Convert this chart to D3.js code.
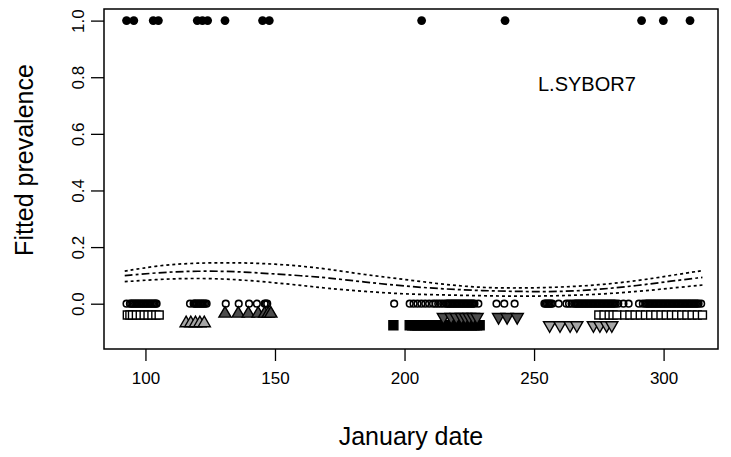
<!DOCTYPE html>
<html>
<head>
<meta charset="utf-8">
<script src="https://cdn.jsdelivr.net/npm/d3@7"></script>
<style>
  body { margin: 0; background: #fff; }
  svg { display: block; font-family: "Liberation Sans", Arial, sans-serif; }
</style>
</head>
<body>
<svg id="chart" width="731" height="457"></svg>
<script>
// fitted curve with its band (January date -> prevalence)
const fitDate  = [92, 105, 117, 130, 140, 150, 160, 170, 185, 200, 215, 230, 245, 260, 275, 290, 303, 315];
const fitMid   = [0.099, 0.110, 0.115, 0.115, 0.111, 0.105, 0.099, 0.092, 0.076, 0.062, 0.052, 0.046, 0.043, 0.042, 0.050, 0.064, 0.080, 0.093];
const fitUpper = [0.115, 0.135, 0.143, 0.145, 0.144, 0.140, 0.133, 0.123, 0.102, 0.086, 0.068, 0.056, 0.055, 0.058, 0.066, 0.081, 0.100, 0.117];
const fitLower = [0.078, 0.086, 0.090, 0.088, 0.082, 0.074, 0.065, 0.054, 0.043, 0.034, 0.031, 0.028, 0.026, 0.028, 0.033, 0.043, 0.055, 0.066];

// observed infected (1) and not infected (0)
const posDates = [92.7, 95.5, 103, 105, 120, 122, 124, 130.7, 145.2, 147.8, 206.6, 238.8, 291.5, 299.9, 310.2];
const negDates = [
  92.7, 94, 94.5, 95, 95.5, 96, 96.5, 97, 97.5, 98, 98.5, 99, 99.5, 100, 100.5, 101, 101.5, 102, 102.5, 103, 103.5, 104, 104.3,
  117.2, 118.6, 119, 119.5, 120, 120.5, 121, 121.5, 122, 122.5, 123, 123.6,
  131, 136, 140, 143, 146, 146.5, 147,
  196, 202, 203.5, 205, 206.5, 208, 209.5, 211, 212, 213, 214, 215, 216, 216.5, 217, 217.5, 218, 218.5, 219, 219.5,
  220, 220.5, 221, 221.5, 222, 222.5, 223, 223.5, 224, 224.5, 225, 225.5, 226, 226.5, 227, 228.5,
  235.5, 238.5, 242.5,
  254, 254.5, 255, 255.5, 256, 256.5, 257, 259.5,
  262.5, 263.5, 264.5, 265.5, 266, 266.5, 267, 267.5, 268, 268.5, 269, 269.5, 270, 270.5, 271, 271.5, 272, 272.5, 273,
  273.5, 274, 274.5, 275, 275.5, 276, 276.5, 277, 277.5, 278, 278.5, 279, 279.5, 280, 280.5, 281, 281.5, 282.5,
  284.5, 286.5,
  290.5, 292, 293, 293.5, 294, 294.5, 295, 295.5, 296, 296.5, 297, 297.5, 298, 298.5, 299, 299.5, 300, 300.5, 301, 301.5,
  302, 302.5, 303, 303.5, 304, 304.5, 305, 305.5, 306, 306.5, 307, 307.5, 308, 308.5, 309, 309.5, 310, 310.5, 311, 311.5,
  312, 312.5, 313, 313.5, 314.5];

// sampling groups shown below zero
const openSqDates = [93, 94, 95, 96.5, 98, 99.5, 101, 102.5, 104, 105.3,
  275, 277, 279, 280.5, 282, 285, 287, 289, 291, 293, 295, 297, 299, 301, 303, 305, 307, 309, 311, 313, 315];
const lightUpDates = [115.7, 117.5, 119.3, 121, 122.7];
const darkUpDates = [130.7, 135.8, 139.7, 143.5, 146, 147.4, 148.4];
const blackSqDates = [195.7, 202, 203, 204, 205, 206, 207, 208, 209, 210, 211, 212, 213, 214, 215, 216, 217, 218, 219, 220, 221, 222, 223, 224, 225, 226, 227, 228, 229];
const darkDownDates = [215, 218, 220, 222, 223.5, 225, 226.5, 228, 236.3, 239.6, 243.5];
const lightDownDates = [256, 260, 263.9, 266.5, 272.9, 275.4, 278, 280];

const groupLevels = [-0.040, -0.069, -0.035, -0.076, -0.047, -0.076];

const xTicks = [100, 150, 200, 250, 300];
const yTicks = [0, 0.2, 0.4, 0.6, 0.8, 1.0];

const svg = d3.select("#chart");
const plotL = 104, plotR = 718, plotT = 9, plotB = 349;

const x = d3.scaleLinear().domain([84, 321]).range([plotL, plotR]);
const y = d3.scaleLinear().domain([-0.16, 1.041]).range([plotB, plotT]);

// axes
const xAxis = svg.append("g")
  .attr("transform", "translate(0," + plotB + ")")
  .call(d3.axisBottom(x).tickValues(xTicks).tickSize(12).tickFormat(d3.format("d")));
xAxis.select(".domain").remove();
xAxis.selectAll("line").attr("stroke", "#000").attr("stroke-width", 1.3);
xAxis.selectAll("text")
  .attr("y", 29).attr("dy", "0.35em")
  .attr("font-size", 17).attr("font-family", "Liberation Sans, Arial, sans-serif")
  .attr("fill", "#000");

const yAxis = svg.append("g")
  .attr("transform", "translate(" + plotL + ",0)")
  .call(d3.axisLeft(y).tickValues(yTicks).tickSize(13).tickFormat(d3.format(".1f")));
yAxis.select(".domain").remove();
yAxis.selectAll("line").attr("stroke", "#000").attr("stroke-width", 1.3);
yAxis.selectAll("text")
  .attr("x", 0).attr("y", -20).attr("dy", 0)
  .attr("text-anchor", "middle")
  .attr("transform", "rotate(-90)")
  .attr("font-size", 17).attr("font-family", "Liberation Sans, Arial, sans-serif")
  .attr("fill", "#000");

// frame
svg.append("rect")
  .attr("x", plotL).attr("y", plotT)
  .attr("width", plotR - plotL).attr("height", plotB - plotT)
  .attr("fill", "none").attr("stroke", "#000").attr("stroke-width", 1.5);

// axis titles
svg.append("text")
  .attr("x", (plotL + plotR) / 2).attr("y", 445)
  .attr("text-anchor", "middle")
  .attr("font-size", 25)
  .text("January date");

svg.append("text")
  .attr("transform", "translate(33,160) rotate(-90)")
  .attr("text-anchor", "middle")
  .attr("font-size", 25)
  .text("Fitted prevalence");

svg.append("text")
  .attr("x", 538).attr("y", 91)
  .attr("font-size", 20)
  .text("L.SYBOR7");

// fitted lines
const line = (vals) => d3.line()
  .x((d, i) => x(fitDate[i]))
  .y((d) => y(d))
  .curve(d3.curveBasis)(vals);

svg.append("path").attr("d", line(fitUpper))
  .attr("fill", "none").attr("stroke", "#000").attr("stroke-width", 1.7)
  .attr("stroke-dasharray", "3,3");
svg.append("path").attr("d", line(fitLower))
  .attr("fill", "none").attr("stroke", "#000").attr("stroke-width", 1.7)
  .attr("stroke-dasharray", "3,3");
svg.append("path").attr("d", line(fitMid))
  .attr("fill", "none").attr("stroke", "#000").attr("stroke-width", 1.7)
  .attr("stroke-dasharray", "8,3,3,3");

// observed points
svg.append("g").selectAll("circle")
  .data(negDates).join("circle")
  .attr("cx", d => x(d)).attr("cy", y(0)).attr("r", 3.3)
  .attr("fill", "none").attr("stroke", "#000").attr("stroke-width", 1.6);

svg.append("g").selectAll("circle")
  .data(posDates).join("circle")
  .attr("cx", d => x(d)).attr("cy", y(1)).attr("r", 4.4)
  .attr("fill", "#000");

// group markers
const sq = d3.symbol().type(d3.symbolSquare).size(64);
const bsq = d3.symbol().type(d3.symbolSquare).size(81);
const tri = d3.symbol().type(d3.symbolTriangle).size(64);

function drawGroup(dates, level, path, fill, rot) {
  svg.append("g").selectAll("path")
    .data(dates).join("path")
    .attr("d", path)
    .attr("transform", d => "translate(" + x(d) + "," + y(level) + ")" + (rot ? " rotate(180)" : ""))
    .attr("fill", fill)
    .attr("stroke", "#000")
    .attr("stroke-width", 1.4);
}

drawGroup(openSqDates, groupLevels[0], sq, "#fff", false);
drawGroup(lightUpDates, groupLevels[1], tri, "#a6a6a6", false);
drawGroup(darkUpDates, groupLevels[2], tri, "#4d4d4d", false);
drawGroup(blackSqDates, groupLevels[3], bsq, "#000", false);
drawGroup(darkDownDates, groupLevels[4], tri, "#4d4d4d", true);
drawGroup(lightDownDates, groupLevels[5], tri, "#a6a6a6", true);
</script>
</body>
</html>
